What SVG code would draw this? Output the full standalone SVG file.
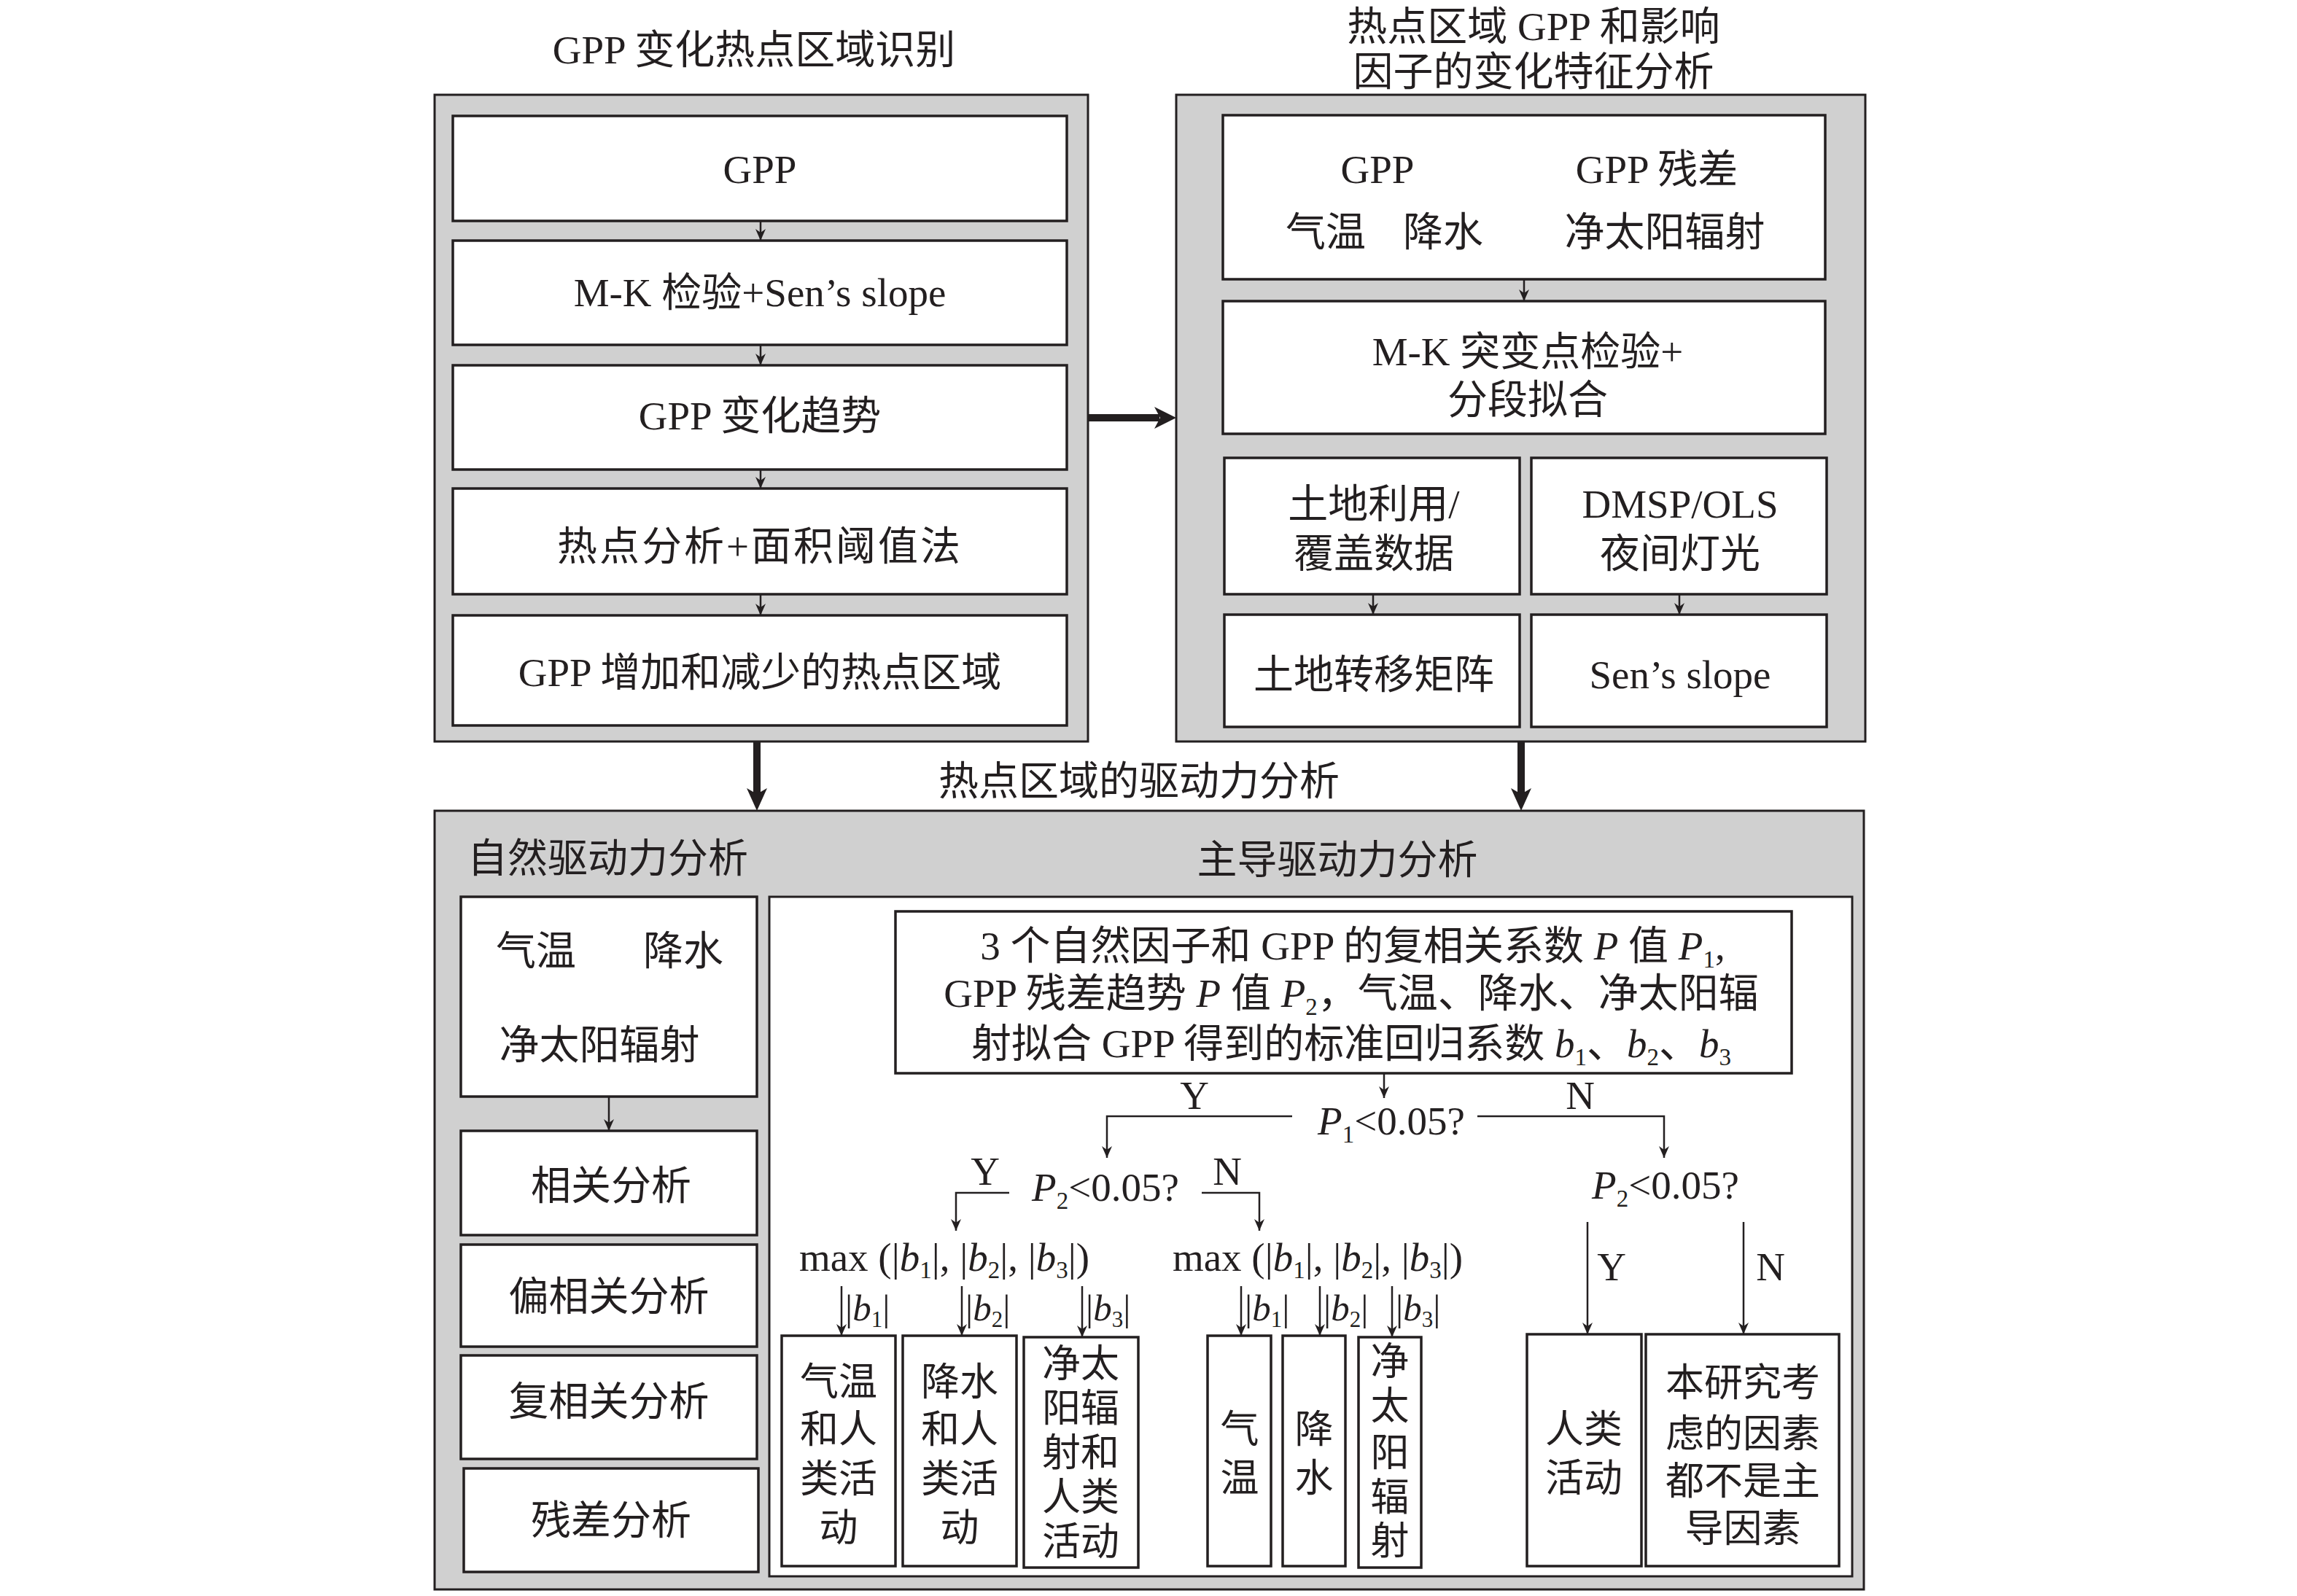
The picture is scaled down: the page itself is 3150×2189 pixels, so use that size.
<svg xmlns="http://www.w3.org/2000/svg" width="3150" height="2189" viewBox="0 0 3150 2189">
<style>
.outer{fill:#d0d0d0;stroke:#231f20;stroke-width:3}
.box{fill:#ffffff;stroke:#231f20;stroke-width:3.5}
.sub{fill:#ffffff;stroke:#231f20;stroke-width:3}
text{font-family:"Liberation Serif","Noto Sans CJK SC",serif;font-size:55px;fill:#231f20}
.c{text-anchor:middle}
.s53{font-size:53px}
.s50{font-size:51px}
.it{font-style:italic}
.ln{fill:none;stroke:#231f20;stroke-width:2.5}
.thick{fill:none;stroke:#231f20;stroke-width:10}
.head{fill:#231f20}
</style>
<defs>
<marker id="ah" viewBox="0 0 16 14" refX="16" refY="7" markerWidth="16" markerHeight="14" markerUnits="userSpaceOnUse" orient="auto">
<path d="M0,0 L16,7 L0,14 L5,7 z" fill="#231f20"/>
</marker>
</defs>
<rect width="3150" height="2189" fill="#ffffff"/>

<!-- titles -->
<text class="c" x="1034" y="87">GPP 变化热点区域识别</text>
<text class="c" x="2103" y="55">热点区域 GPP 和影响</text>
<text class="c" x="2103" y="117">因子的变化特征分析</text>

<!-- Left top panel -->
<g id="panel-left">
<rect class="outer" x="596" y="130" width="896" height="887"/>
<g id="n-gpp"><rect class="box" x="621" y="159" width="842" height="144"/><text class="c" x="1042" y="251">GPP</text></g>
<g id="n-mk"><rect class="box" x="621" y="330" width="842" height="143"/><text class="c" x="1042" y="420">M-K 检验+Sen’s slope</text></g>
<g id="n-trend"><rect class="box" x="621" y="501" width="842" height="143"/><text class="c" x="1042" y="589">GPP 变化趋势</text></g>
<g id="n-hotspot"><rect class="box" x="621" y="670" width="842" height="145"/><text class="c" x="1042" y="768" letter-spacing="3">热点分析+面积阈值法</text></g>
<g id="n-region"><rect class="box" x="621" y="844" width="842" height="151"/><text class="c" x="1042" y="941">GPP 增加和减少的热点区域</text></g>
</g>

<!-- Right top panel -->
<g id="panel-right">
<rect class="outer" x="1613" y="130" width="945" height="887"/>
<g id="n-vars"><rect class="box" x="1677" y="158" width="826" height="225"/>
<text class="c" x="1889" y="251">GPP</text>
<text class="c" x="2272" y="251">GPP 残差</text>
<text class="c" x="1818" y="337">气温</text>
<text class="c" x="1979" y="337">降水</text>
<text class="c" x="2283" y="337">净太阳辐射</text></g>
<g id="n-mkbreak"><rect class="box" x="1677" y="413" width="826" height="182"/>
<text class="c" x="2095" y="501">M-K 突变点检验+</text>
<text class="c" x="2095" y="567">分段拟合</text></g>
<g id="n-landuse"><rect class="box" x="1679" y="628" width="405" height="187"/>
<text class="c" x="1884" y="710">土地利用/</text>
<text class="c" x="1884" y="778">覆盖数据</text></g>
<g id="n-dmsp"><rect class="box" x="2100" y="628" width="405" height="187"/>
<text class="c" x="2304" y="710">DMSP/OLS</text>
<text class="c" x="2304" y="778">夜间灯光</text></g>
<g id="n-matrix"><rect class="box" x="1679" y="843" width="405" height="154"/>
<text class="c" x="1884" y="944">土地转移矩阵</text></g>
<g id="n-sen"><rect class="box" x="2100" y="843" width="405" height="154"/>
<text class="c" x="2304" y="944">Sen’s slope</text></g>
</g>

<!-- Bottom panel -->
<text x="1287" y="1090">热点区域的驱动力分析</text>
<g id="panel-bottom">
<rect class="outer" x="596" y="1112" width="1960" height="1068"/>
<text x="641" y="1196">自然驱动力分析</text>
<text class="c" x="1834" y="1198">主导驱动力分析</text>
<g id="n-factors"><rect class="box" x="632" y="1230" width="406" height="274"/>
<text class="c" x="735" y="1323">气温</text>
<text class="c" x="937" y="1323">降水</text>
<text class="c" x="822" y="1452">净太阳辐射</text></g>
<g id="n-corr"><rect class="box" x="632" y="1551" width="406" height="143"/><text class="c" x="838" y="1645">相关分析</text></g>
<g id="n-pcorr"><rect class="box" x="632" y="1707" width="406" height="140"/><text class="c" x="835" y="1797">偏相关分析</text></g>
<g id="n-mcorr"><rect class="box" x="632" y="1859" width="406" height="142"/><text class="c" x="835" y="1941">复相关分析</text></g>
<g id="n-resid"><rect class="box" x="636" y="2014" width="404" height="142"/><text class="c" x="838" y="2104">残差分析</text></g>

<g id="n-dominant"><rect class="sub" x="1055" y="1230" width="1485" height="932"/></g>
<g id="n-coef"><rect class="box" x="1228" y="1250" width="1229" height="222"/>
<text class="c" x="1855" y="1316">3 个自然因子和 GPP 的复相关系数 <tspan class="it">P</tspan> 值 <tspan class="it">P</tspan><tspan font-size="33" dy="11">1</tspan><tspan dy="-11">,</tspan></text>
<text class="c" x="1853" y="1381">GPP 残差趋势 <tspan class="it">P</tspan> 值 <tspan class="it">P</tspan><tspan font-size="33" dy="11">2</tspan><tspan dy="-11">，气温、降水、净太阳辐</tspan></text>
<text class="c" x="1853" y="1450">射拟合 GPP 得到的标准回归系数 <tspan class="it">b</tspan><tspan font-size="33" dy="11">1</tspan><tspan dy="-11">、</tspan><tspan class="it">b</tspan><tspan font-size="33" dy="11">2</tspan><tspan dy="-11">、</tspan><tspan class="it">b</tspan><tspan font-size="33" dy="11">3</tspan></text></g>

<g id="n-p1"><text class="c" x="1908" y="1556"><tspan class="it">P</tspan><tspan font-size="33" dy="11">1</tspan><tspan dy="-11">&lt;0.05?</tspan></text></g>
<g id="n-p2a"><text class="c" x="1516" y="1647"><tspan class="it">P</tspan><tspan font-size="33" dy="11">2</tspan><tspan dy="-11">&lt;0.05?</tspan></text></g>
<g id="n-p2b"><text class="c" x="2284" y="1644"><tspan class="it">P</tspan><tspan font-size="33" dy="11">2</tspan><tspan dy="-11">&lt;0.05?</tspan></text></g>

<g id="n-max1"><text class="c" x="1295" y="1743">max (|<tspan class="it">b</tspan><tspan font-size="33" dy="10">1</tspan><tspan dy="-10">|, |</tspan><tspan class="it">b</tspan><tspan font-size="33" dy="10">2</tspan><tspan dy="-10">|, |</tspan><tspan class="it">b</tspan><tspan font-size="33" dy="10">3</tspan><tspan dy="-10">|)</tspan></text></g>
<g id="n-max2"><text class="c" x="1807" y="1743">max (|<tspan class="it">b</tspan><tspan font-size="33" dy="10">1</tspan><tspan dy="-10">|, |</tspan><tspan class="it">b</tspan><tspan font-size="33" dy="10">2</tspan><tspan dy="-10">|, |</tspan><tspan class="it">b</tspan><tspan font-size="33" dy="10">3</tspan><tspan dy="-10">|)</tspan></text></g>

<g id="n-r1"><rect class="box" x="1072" y="1832" width="156" height="316"/>
<text class="c s53" x="1150" y="1914">气温</text><text class="c s53" x="1150" y="1979">和人</text><text class="c s53" x="1150" y="2047">类活</text><text class="c s53" x="1150" y="2114">动</text></g>
<g id="n-r2"><rect class="box" x="1238" y="1832" width="156" height="316"/>
<text class="c s53" x="1316" y="1914">降水</text><text class="c s53" x="1316" y="1979">和人</text><text class="c s53" x="1316" y="2047">类活</text><text class="c s53" x="1316" y="2114">动</text></g>
<g id="n-r3"><rect class="box" x="1404" y="1834" width="157" height="316"/>
<text class="c s53" x="1482" y="1889">净太</text><text class="c s53" x="1482" y="1950">阳辐</text><text class="c s53" x="1482" y="2011">射和</text><text class="c s53" x="1482" y="2072">人类</text><text class="c s53" x="1482" y="2133">活动</text></g>
<g id="n-r4"><rect class="box" x="1656" y="1832" width="87" height="316"/>
<text class="c s53" x="1700" y="1979">气</text><text class="c s53" x="1700" y="2046">温</text></g>
<g id="n-r5"><rect class="box" x="1759" y="1832" width="86" height="316"/>
<text class="c s53" x="1802" y="1979">降</text><text class="c s53" x="1802" y="2046">水</text></g>
<g id="n-r6"><rect class="box" x="1863" y="1834" width="86" height="316"/>
<text class="c s53" x="1906" y="1886">净</text><text class="c s53" x="1906" y="1947">太</text><text class="c s53" x="1906" y="2011">阳</text><text class="c s53" x="1906" y="2072">辐</text><text class="c s53" x="1906" y="2132">射</text></g>
<g id="n-r7"><rect class="box" x="2094" y="1830" width="157" height="318"/>
<text class="c s53" x="2172" y="1979">人类</text><text class="c s53" x="2172" y="2046">活动</text></g>
<g id="n-r8"><rect class="box" x="2257" y="1830" width="265" height="318"/>
<text class="c s53" x="2390" y="1915">本研究考</text><text class="c s53" x="2390" y="1985">虑的因素</text><text class="c s53" x="2390" y="2050">都不是主</text><text class="c s53" x="2390" y="2115">导因素</text></g>
</g>

<!-- connectors -->
<g id="connectors">
<path class="ln" d="M1043,303 V330" marker-end="url(#ah)"/>
<path class="ln" d="M1043,473 V501" marker-end="url(#ah)"/>
<path class="ln" d="M1043,644 V670" marker-end="url(#ah)"/>
<path class="ln" d="M1043,815 V844" marker-end="url(#ah)"/>
<path class="ln" d="M2090,383 V413" marker-end="url(#ah)"/>
<path class="ln" d="M1883,815 V843" marker-end="url(#ah)"/>
<path class="ln" d="M2303,815 V843" marker-end="url(#ah)"/>
<path class="ln" d="M835,1504 V1551" marker-end="url(#ah)"/>

<path class="thick" d="M1492,573 H1590"/>
<polygon class="head" points="1613,573 1583,558 1591,573 1583,588"/>
<path class="thick" d="M1038,1017 V1090"/>
<polygon class="head" points="1038,1112 1024,1081 1038,1089 1052,1081"/>
<path class="thick" d="M2086,1017 V1090"/>
<polygon class="head" points="2086,1112 2072,1081 2086,1089 2100,1081"/>

<path class="ln" d="M1898,1472 V1506" marker-end="url(#ah)"/>
<path class="ln" d="M1772,1531 H1518 V1588" marker-end="url(#ah)"/>
<path class="ln" d="M2026,1531 H2282 V1588" marker-end="url(#ah)"/>
<text class="c" x="1638" y="1521">Y</text>
<text class="c" x="2167" y="1521">N</text>

<path class="ln" d="M1384,1636 H1311 V1688" marker-end="url(#ah)"/>
<path class="ln" d="M1648,1636 H1727 V1688" marker-end="url(#ah)"/>
<text class="c" x="1351" y="1625">Y</text>
<text class="c" x="1683" y="1625">N</text>

<path class="ln" d="M2177,1676 V1830" marker-end="url(#ah)"/>
<path class="ln" d="M2391,1676 V1830" marker-end="url(#ah)"/>
<text class="c" x="2210" y="1756">Y</text>
<text class="c" x="2428" y="1756">N</text>

<path class="ln" d="M1154,1764 V1832" marker-end="url(#ah)"/>
<path class="ln" d="M1319,1764 V1832" marker-end="url(#ah)"/>
<path class="ln" d="M1484,1764 V1834" marker-end="url(#ah)"/>
<path class="ln" d="M1702,1764 V1832" marker-end="url(#ah)"/>
<path class="ln" d="M1810,1764 V1832" marker-end="url(#ah)"/>
<path class="ln" d="M1909,1764 V1834" marker-end="url(#ah)"/>
<text class="s50" x="1159" y="1811">|<tspan class="it">b</tspan><tspan font-size="31" dy="9">1</tspan><tspan dy="-9">|</tspan></text>
<text class="s50" x="1324" y="1811">|<tspan class="it">b</tspan><tspan font-size="31" dy="9">2</tspan><tspan dy="-9">|</tspan></text>
<text class="s50" x="1489" y="1811">|<tspan class="it">b</tspan><tspan font-size="31" dy="9">3</tspan><tspan dy="-9">|</tspan></text>
<text class="s50" x="1707" y="1811">|<tspan class="it">b</tspan><tspan font-size="31" dy="9">1</tspan><tspan dy="-9">|</tspan></text>
<text class="s50" x="1815" y="1811">|<tspan class="it">b</tspan><tspan font-size="31" dy="9">2</tspan><tspan dy="-9">|</tspan></text>
<text class="s50" x="1914" y="1811">|<tspan class="it">b</tspan><tspan font-size="31" dy="9">3</tspan><tspan dy="-9">|</tspan></text>
</g>
</svg>
